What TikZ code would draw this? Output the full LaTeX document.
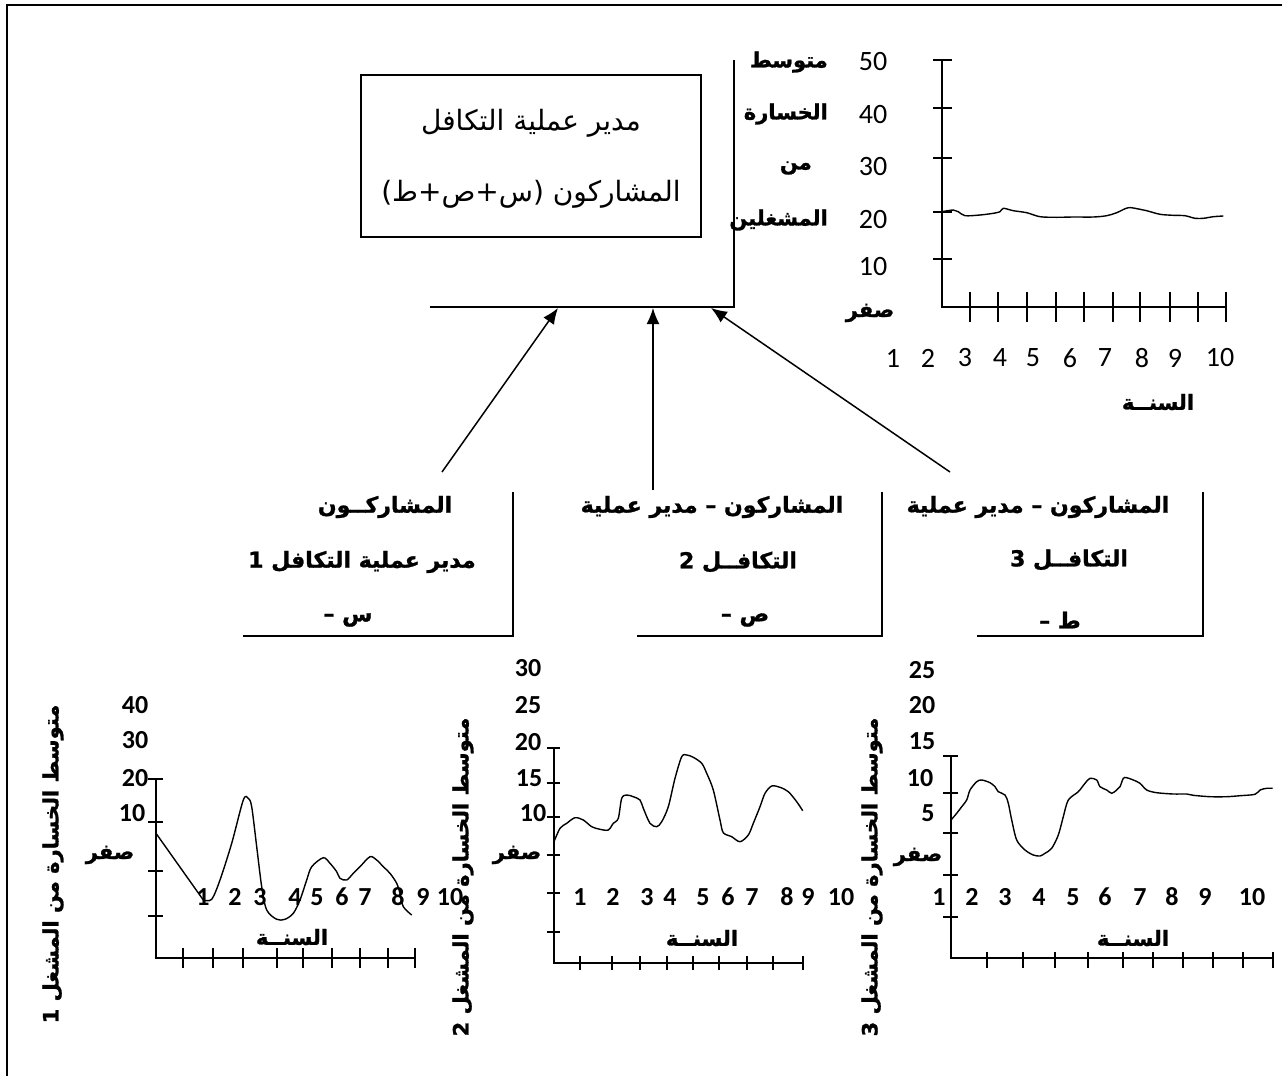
\documentclass[tikz,border=0pt]{standalone}
\usepackage{fontspec}
\usetikzlibrary{arrows.meta}
\TeXXeTstate=1
\newfontfamily\arabicfont[Script=Arabic, BoldFeatures={FakeBold=1.2}]{DejaVu Sans}
\newfontfamily\numfont{Carlito}
\tikzset{
  every node/.style={inner sep=0pt},
  frameline/.style={line width=2pt},
  boxline/.style={line width=1.8pt},
  axisline/.style={line width=2pt},
  tickline/.style={line width=1.8pt},
  curveline/.style={line width=1.4pt},
  arbold/.style={font=\arabicfont\bfseries\fontsize{21}{25}\selectfont},
  arboxt/.style={font=\arabicfont\bfseries\fontsize{22}{26}\selectfont},
  arreg/.style={font=\arabicfont\fontsize{28}{32}\selectfont},
  numreg/.style={font=\numfont\fontsize{28}{32}\selectfont},
  numbold/.style={font=\numfont\bfseries\fontsize{26}{30}\selectfont},
  arrowline/.style={line width=1.5pt, -{Latex[length=16pt,width=13pt]}}
}
\begin{document}
\begin{tikzpicture}[x=1pt,y=-1pt]
\useasboundingbox (0,0) rectangle (1282,1076);
% outer frame (left and top edges)
\coordinate (fbl) at (7,1076);
\coordinate (ftl) at (7,5);
\coordinate (ftr) at (1282,5);
\draw[frameline] (fbl) -- (ftl) -- (ftr);

% ---------- top box ----------
\node[draw, boxline, minimum width=340pt, minimum height=162pt] (mgr) at (531,156) {};
\node[arreg] (mgrl1) at (531,123) {\beginR مدير عملية التكافل\endR};
\node[arreg] (mgrl2) at (531,194) {\beginR المشاركون (س+ص+ط)\endR};
\coordinate (Ltop) at (734,60);
\coordinate (Lcorner) at (734,307);
\coordinate (Lleft) at (430,307);
\draw[boxline] (Ltop) -- (Lcorner) -- (Lleft);

% arrows
\coordinate (a1s) at (442,472); \coordinate (a1e) at (558,308);
\coordinate (a2s) at (653,490); \coordinate (a2e) at (653,308);
\coordinate (a3s) at (950,472); \coordinate (a3e) at (711,308);
\draw[arrowline] (a1s) -- (a1e);
\draw[arrowline] (a2s) -- (a2e);
\draw[arrowline] (a3s) -- (a3e);

% ---------- top-right chart ----------
\draw[axisline] (941.7,60) -- (941.7,306.7) -- (1226,306.7);
\foreach \y in {60,108,158,212,259} \draw[tickline] (933,\y) -- (952,\y);
\foreach \x in {970,998.3,1026.7,1055.7,1084.3,1112.7,1140,1170,1198.3,1226} \draw[tickline] (\x,292) -- (\x,322);
\node[numreg] (ty50) at (873,62) {50};
\node[numreg] (ty40) at (873,115) {40};
\node[numreg] (ty30) at (873,167) {30};
\node[numreg] (ty20) at (873,220) {20};
\node[numreg] (ty10) at (873,267) {10};
\node[arbold, anchor=east] (tl1) at (828,62) {\beginR متوسط\endR};
\node[arbold, anchor=east] (tl2) at (828,114) {\beginR الخسارة\endR};
\node[arbold, anchor=east] (tl3) at (812,168) {\beginR من\endR};
\node[arbold, anchor=east] (tl4) at (828,220) {\beginR المشغلين\endR};
\node[arbold] (tzero) at (870,313) {\beginR صفر\endR};
\foreach \x/\l [count=\i] in {893/1,928/2,965/3,1000/4,1033/5,1070/6,1105/7,1142/8,1175/9,1220/10}
  \node[numreg] (tx\i) at (\x,358) {\l};
\node[arbold] (tyear) at (1158,402) {\beginR السنــة\endR};
\draw[curveline] plot[smooth, tension=0.5] coordinates {(941.7,211.7) (953.3,210) (958.3,211.7) (965,215.7) (980,215) (993.3,213.3) (1000,211.7) (1003.3,208.3) (1013.3,210.7) (1026.7,212.7) (1040,216.7) (1056.7,217.3) (1073.3,217) (1093.3,217) (1106.7,215.7) (1116.7,212.7) (1128.3,207.7) (1140,209.3) (1146.7,210.7) (1160,214.3) (1173.3,215.3) (1185,215.7) (1195,218.3) (1203.3,218.3) (1213.3,216.7) (1223.3,216)};

% ---------- middle brackets ----------
\draw[boxline] (513,492) -- (513,636) -- (243,636);
\node[arboxt] (b1l1) at (385,507) {\beginR المشاركــون\endR};
\node[arboxt] (b1l2) at (362,562) {\beginR مدير عملية التكافل 1\endR};
\node[arboxt] (b1l3) at (348,620) {\beginR س –\endR};

\draw[boxline] (882,492) -- (882,636) -- (637,636);
\node[arboxt] (b2l1) at (712,507) {\beginR المشاركون – مدير عملية\endR};
\node[arboxt] (b2l2) at (738,562) {\beginR التكافــل 2\endR};
\node[arboxt] (b2l3) at (745,620) {\beginR ص –\endR};

\draw[boxline] (1203,492) -- (1203,636) -- (977,636);
\node[arboxt] (b3l1) at (1038,507) {\beginR المشاركون – مدير عملية\endR};
\node[arboxt] (b3l2) at (1069,560) {\beginR التكافــل 3\endR};
\node[arboxt] (b3l3) at (1060,620) {\beginR ط –\endR};

% ---------- chart 1 ----------
\draw[axisline] (156,779) -- (156,958) -- (415,958);
\foreach \y in {779,822,871,916} \draw[tickline] (148,\y) -- (163,\y);
\foreach \x in {183,213,243,277,303,332,360,388,415} \draw[tickline] (\x,948) -- (\x,968);
\node[numbold] (c1y40) at (135,705) {40};
\node[numbold] (c1y30) at (135,740) {30};
\node[numbold] (c1y20) at (135,778) {20};
\node[numbold] (c1y10) at (132,813) {10};
\node[arbold] (c1zero) at (110,855) {\beginR صفر\endR};
\foreach \x/\l [count=\i] in {203/1,235/2,260/3,295/4,317/5,342/6,365/7,398/8,423/9,450/10}
  \node[numbold] (c1x\i) at (\x,897) {\l};
\node[arbold] (c1year) at (292,937) {\beginR السنــة\endR};
\node[arbold, rotate=90] (c1lab) at (53,864) {\beginR متوسط الخسارة من المشغل 1\endR};
\draw[curveline] (156,833.3) -- (203.3,900);
\draw[curveline] plot[smooth, tension=0.5] coordinates {(203.3,900) (211.7,899.3) (220,880) (231.7,843.3) (243.3,800) (248.3,798.3) (251.7,806.7) (256.7,846.7) (261.7,886.7) (266.7,910) (276.7,919.3) (285,919.3) (293.3,913.3) (300,900) (306.7,880) (311.7,866.7) (323.3,857.7) (330,863.3) (336.7,871.7) (340,878.3) (346.7,880) (353.3,873.3) (360,866.7) (370,856.7) (376.7,860) (383.3,866.7) (390,873.3) (396.7,883.3) (400,893.3) (403.3,906.7) (411.7,915)};

% ---------- chart 2 ----------
\draw[axisline] (554,748) -- (554,963) -- (803,963);
\foreach \y in {748,783,817,855,893,932} \draw[tickline] (547,\y) -- (560,\y);
\foreach \x in {580,612,640,667,693,719,747,773,803} \draw[tickline] (\x,956) -- (\x,970);
\node[numbold] (c2y30) at (528,668) {30};
\node[numbold] (c2y25) at (528,705) {25};
\node[numbold] (c2y20) at (528,742) {20};
\node[numbold] (c2y15) at (529,778) {15};
\node[numbold] (c2y10) at (533,813) {10};
\node[arbold] (c2zero) at (517,855) {\beginR صفر\endR};
\foreach \x/\l [count=\i] in {580/1,613/2,647/3,670/4,703/5,728/6,752/7,787/8,808/9,841/10}
  \node[numbold] (c2x\i) at (\x,897) {\l};
\node[arbold] (c2year) at (702,938) {\beginR السنــة\endR};
\node[arbold, rotate=90] (c2lab) at (463,877) {\beginR متوسط الخسارة من المشغل 2\endR};
\draw[curveline] plot[smooth, tension=0.5] coordinates {(554,841.7) (560,828.3) (566.7,823.3) (575,817.7) (583.3,820) (591.7,826.7) (600,829.3) (608.3,830) (613.3,823.3) (618.3,818.3) (621.7,798.3) (626.7,795) (633.3,796.7) (640,800) (643.3,808.3) (650,823.3) (656.7,826.7) (661.7,821.7) (668.3,806.7) (675,778.3) (681.7,756.7) (686.7,755) (693.3,757.3) (701.7,763.3) (706.7,773.3) (713.3,790) (720,820) (723.3,832.7) (731.7,836.7) (740,841.7) (748.3,835) (753.3,823.3) (760,806.7) (765,793.3) (771.7,786) (780,787.3) (788.3,791.7) (796.7,801.7) (802.7,810.7)};

% ---------- chart 3 ----------
\draw[axisline] (951,756) -- (951,958) -- (1273,958);
\foreach \y in {756,793,833,875,917} \draw[tickline] (943,\y) -- (958,\y);
\foreach \x in {987,1023,1055,1088,1123,1153,1183,1213,1243,1273} \draw[tickline] (\x,952) -- (\x,968);
\node[numbold] (c3y25) at (922,670) {25};
\node[numbold] (c3y20) at (922,705) {20};
\node[numbold] (c3y15) at (922,741) {15};
\node[numbold] (c3y10) at (920,778) {10};
\node[numbold] (c3y5) at (928,813) {5};
\node[arbold] (c3zero) at (918,857) {\beginR صفر\endR};
\foreach \x/\l [count=\i] in {939/1,972/2,1005/3,1039/4,1073/5,1105/6,1140/7,1172/8,1205/9,1252/10}
  \node[numbold] (c3x\i) at (\x,897) {\l};
\node[arbold] (c3year) at (1133,938) {\beginR السنــة\endR};
\node[arbold, rotate=90] (c3lab) at (872,877) {\beginR متوسط الخسارة من المشغل 3\endR};
\draw[curveline] plot[smooth, tension=0.5] coordinates {(951,820) (956.7,813.3) (961.7,806.7) (966.7,800) (970,790) (976.7,781.7) (981.7,780) (990,782.7) (995,786.7) (998.3,791.7) (1005,795) (1008.3,803.3) (1011.7,820) (1016.7,840) (1025,850) (1033.3,855) (1040,856) (1045,853.3) (1051.7,848.3) (1058.3,835) (1063.3,816.7) (1068.3,800) (1078.3,791.7) (1085,783.3) (1090,778.3) (1096.7,780) (1100,786.7) (1106.7,790) (1111.7,793.3) (1116.7,790) (1120,786.7) (1123.3,778.3) (1126.7,777.7) (1133.3,780) (1140,783.3) (1146.7,790) (1156.7,792.7) (1173.3,794) (1186.7,794) (1193.3,795.3) (1210,796.7) (1226.7,796.7) (1240,795.7) (1255,794.3) (1260,790) (1266.7,788.3) (1272.7,788.3)};
\end{tikzpicture}
\end{document}
